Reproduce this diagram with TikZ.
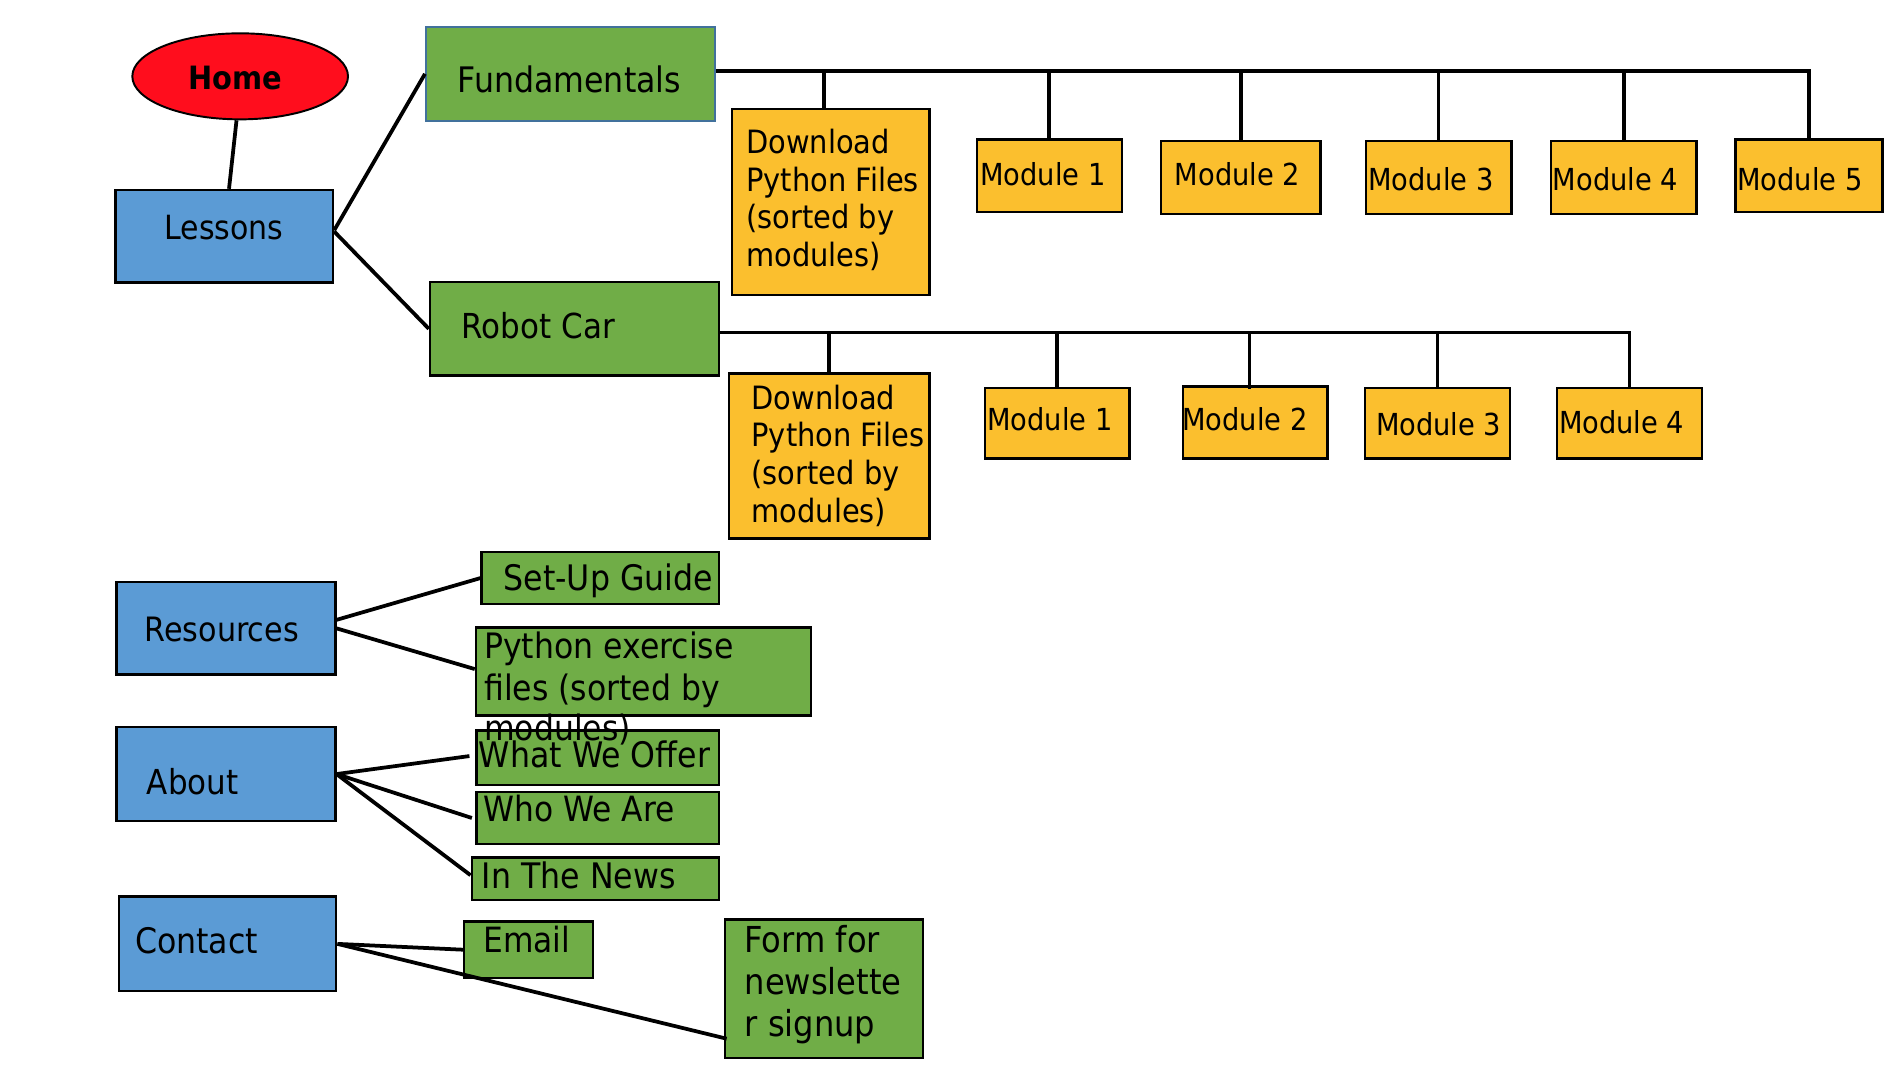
\documentclass[tikz,border=0pt]{standalone}
\usepackage{fontspec}
\setmainfont[FakeStretch=0.9]{DejaVu Sans}
\usetikzlibrary{fit,shapes.geometric}
\definecolor{cblue}{HTML}{5B9BD5}
\definecolor{cgreen}{HTML}{70AD47}
\definecolor{corange}{HTML}{FBBF2E}
\definecolor{cred}{HTML}{FF0D1D}
\definecolor{cedge}{HTML}{41719C}
\newcommand{\fsz}[1]{\fontsize{#1}{#1}\selectfont}
\begin{document}
\begin{tikzpicture}[x=1pt,y=-1pt,
  box/.style={draw=black,line width=2pt,inner sep=0pt},
  bluebox/.style={box,fill=cblue},
  greenbox/.style={box,fill=cgreen},
  orangebox/.style={box,fill=corange},
  conn/.style={draw=black,line width=3.1pt},
  lbl/.style={anchor=base west,inner sep=0pt,text=black},
]
\fill[white] (0,0) rectangle (1568,888);
\useasboundingbox (0,0) rectangle (1568,888);

% ---------- boxes ----------
\node[ellipse,draw=black,line width=1.6pt,fill=cred,minimum width=178pt,minimum height=71pt,inner sep=0pt] (home) at (198.2,63) {};
\node[bluebox,fit={(95.2,156.8) (274.8,233.3)}] (les) {};
\node[greenbox,draw=cedge,line width=1.6pt,fit={(351.5,22.3) (590.3,99.6)}] (fund) {};
\node[greenbox,fit={(354.9,232.7) (593.4,310)}] (robot) {};

\node[orangebox,fit={(604.2,90) (767.2,243.5)}] (fdl) {};
\node[orangebox,fit={(806.3,115) (925.7,175)}] (fm1) {};
\node[orangebox,fit={(957.9,116.6) (1089.9,176.6)}] (fm2) {};
\node[orangebox,fit={(1127.2,116.6) (1247.2,176.6)}] (fm3) {};
\node[orangebox,fit={(1280,116.6) (1400,176.6)}] (fm4) {};
\node[orangebox,fit={(1432.2,115) (1553.5,175)}] (fm5) {};

\node[orangebox,fit={(601.6,308.4) (767.2,444.3)}] (rdl) {};
\node[orangebox,fit={(812.7,320) (932,378.5)}] (rm1) {};
\node[orangebox,fit={(976.2,319.1) (1095.6,378.5)}] (rm2) {};
\node[orangebox,fit={(1126.6,320) (1245.9,378.5)}] (rm3) {};
\node[orangebox,fit={(1285,320) (1404.5,378.5)}] (rm4) {};

\node[bluebox,fit={(96.3,480.3) (276.7,556.8)}] (res) {};
\node[greenbox,fit={(397.5,455.6) (593.4,498.5)}] (setup) {};
\node[greenbox,fit={(392.8,517.7) (669.3,590.6)}] (pyex) {};

\node[bluebox,fit={(96.3,600) (276.7,677.6)}] (about) {};
\node[greenbox,fit={(393.4,603) (593.4,647.9)}] (what) {};
\node[greenbox,fit={(393.4,653.6) (593.4,696.5)}] (who) {};
\node[greenbox,fit={(389.3,707.8) (593.4,742.7)}] (news) {};

\node[bluebox,fit={(98,740) (277.5,817.9)}] (contact) {};
\node[greenbox,fit={(383.1,760.6) (489.2,806.9)}] (email) {};
\node[greenbox,fit={(598.3,758.7) (761.5,873.2)}] (form) {};

% ---------- connectors ----------
\draw[conn] ([xshift=-3pt]home.south) -- ([xshift=4pt]les.north);
\draw[conn] ([yshift=5pt]les.east) -- (fund.west);
\draw[conn] ([yshift=4pt]les.east) -- (robot.west);

\coordinate (fbus) at ([yshift=2.5pt]fund.east);
\draw[conn] (fbus) -| (fm5.north);
\coordinate (fdltop) at ([xshift=-6pt]fdl.north);
\draw[conn] (fdltop) -- (fdltop |- fbus);
\foreach \m in {fm1,fm2,fm3,fm4} \draw[conn] (\m.north) -- (\m.north |- fbus);

\coordinate (rbus) at ([yshift=-3pt]robot.east);
\draw[conn] (rbus) -| (rm4.north);
\foreach \m in {rdl,rm1,rm3} \draw[conn] (\m.north) -- (\m.north |- rbus);
\coordinate (rm2top) at ([xshift=-4.7pt,yshift=-3pt]rm2.north);
\draw[conn] (rm2top) -- (rm2top |- rbus);

\draw[conn] ([yshift=7pt]res.east) -- (setup.west);
\draw[conn] (res.east) -- ([yshift=2pt]pyex.west);
\draw[conn] (about.east) -- ([xshift=-5pt,yshift=1.5pt]what.west);
\draw[conn] (about.east) -- ([xshift=-3pt]who.west);
\draw[conn] (about.east) -- ([yshift=3pt]news.west);
\draw[conn] (contact.east) -- (email.west);
\draw[conn] (contact.east) -- ([xshift=2.4pt,yshift=17pt]form.south west);

% ---------- texts ----------
\node[anchor=base,inner sep=0pt,font=\fsz{26.5}\bfseries] (homeT) at (194.5,73.7) {Home};
\node[lbl,font=\fsz{29}] (fundT) at (377.5,76.5) {Fundamentals};
\node[lbl,font=\fsz{27.5}] (lesT) at (135.6,197.5) {Lessons};
\node[lbl,font=\fsz{28.4}] (robotT) at (380.9,279.2) {Robot Car};

\node[lbl,font=\fsz{26.5}] (fdlA) at (615.6,127) {Download};
\node[lbl,font=\fsz{26.5}] (fdlB) at (615.6,158) {Python Files};
\node[lbl,font=\fsz{26.5}] (fdlC) at (615.6,188.5) {(sorted by};
\node[lbl,font=\fsz{26.5}] (fdlD) at (615.6,220) {modules)};
\node[lbl,font=\fsz{25}] (fm1T) at (808.8,153.2) {Module 1};
\node[lbl,font=\fsz{25}] (fm2T) at (969.3,153.2) {Module 2};
\node[lbl,font=\fsz{25}] (fm3T) at (1129,156.8) {Module 3};
\node[lbl,font=\fsz{25}] (fm4T) at (1281.3,157) {Module 4};
\node[lbl,font=\fsz{25}] (fm5T) at (1433.5,157) {Module 5};

\node[lbl,font=\fsz{26.5}] (rdlA) at (620,337.7) {Download};
\node[lbl,font=\fsz{26.5}] (rdlB) at (620,368.6) {Python Files};
\node[lbl,font=\fsz{26.5}] (rdlC) at (620,400) {(sorted by};
\node[lbl,font=\fsz{26.5}] (rdlD) at (620,431) {modules)};
\node[lbl,font=\fsz{25}] (rm1T) at (814.6,355.4) {Module 1};
\node[lbl,font=\fsz{25}] (rm2T) at (975.5,355) {Module 2};
\node[lbl,font=\fsz{25}] (rm3T) at (1135.4,359) {Module 3};
\node[lbl,font=\fsz{25}] (rm4T) at (1286.4,357.6) {Module 4};

\node[lbl,font=\fsz{27.7}] (resT) at (119.1,529) {Resources};
\node[lbl,font=\fsz{29}] (setupT) at (415.4,487) {Set-Up Guide};
\node[lbl,font=\fsz{28.9}] (pyexA) at (399.4,543.3) {Python exercise};
\node[lbl,font=\fsz{28.9}] (pyexB) at (399.4,577.7) {files (sorted by};
\node[lbl,font=\fsz{28.9}] (pyexC) at (399.4,611.5) {modules)};

\node[lbl,font=\fsz{28.4}] (aboutT) at (121,655.5) {About};
\node[lbl,font=\fsz{29}] (whatT) at (395,633.2) {What We Offer};
\node[lbl,font=\fsz{28.7}] (whoT) at (398.9,678) {Who We Are};
\node[lbl,font=\fsz{29}] (newsT) at (397.5,733) {In The News};

\node[lbl,font=\fsz{29}] (contactT) at (111.3,786.8) {Contact};
\node[lbl,font=\fsz{28.7}] (emailT) at (398.6,786) {Email};
\node[lbl,font=\fsz{29.5}] (formA) at (614.3,786) {Form for};
\node[lbl,font=\fsz{29.5}] (formB) at (614.3,820.5) {newslette};
\node[lbl,font=\fsz{29.5}] (formC) at (614.3,855) {r signup};
\end{tikzpicture}
\end{document}
